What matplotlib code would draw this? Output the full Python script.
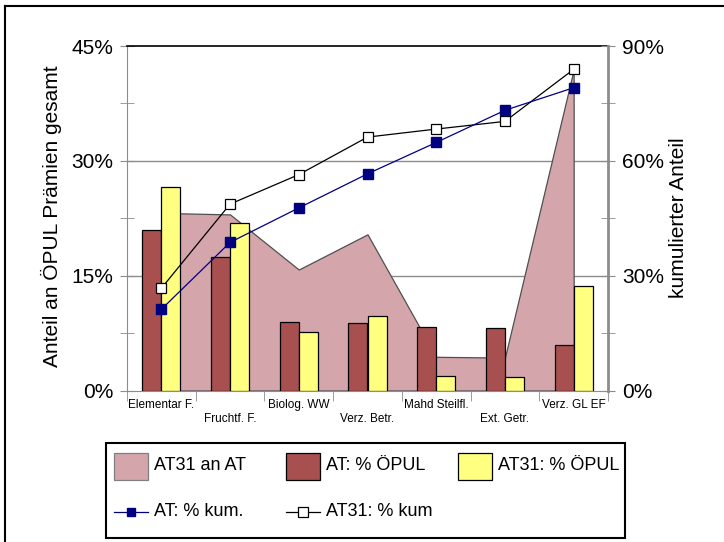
import matplotlib
matplotlib.use("Agg")
import matplotlib.pyplot as plt
from matplotlib.patches import Rectangle
import numpy as np

plt.rcParams["font.family"] = ["Liberation Sans", "DejaVu Sans"]

# Maßnahmen (Kategorien) und Anteile in %
categories = ["Elementar F.", "Fruchtf. F.", "Biolog. WW", "Verz. Betr.",
              "Mahd Steilfl.", "Ext. Getr.", "Verz. GL EF"]
at31_an_at = [23.2, 23.0, 15.8, 20.4, 4.4, 4.3, 41.9]     # Fläche, linke Achse
at_oepul = [21.0, 17.45, 8.9, 8.85, 8.25, 8.1, 6.0]       # Balken AT
at31_oepul = [26.6, 21.9, 7.6, 9.75, 1.95, 1.7, 13.7]     # Balken AT31
at_kum = [21.2, 38.7, 47.7, 56.6, 64.8, 73.2, 79.1]       # rechte Achse
at31_kum = [26.7, 48.7, 56.4, 66.2, 68.3, 70.3, 83.9]     # rechte Achse

left_ticks = [0, 15, 30, 45]
right_ticks = [0, 30, 60, 90]

C_AREA = "#D4A5AB"
C_AT = "#A85050"
C_AT31 = "#FFFF80"
C_BLUE = "#000080"
GREY = "#8C8C8C"
FS = 15

W, H = 724, 542
fig = plt.figure(figsize=(W / 100, H / 100), dpi=100)
ax = fig.add_axes([127 / W, 1 - 390.5 / H, 481 / W, 344.5 / H])
x = np.arange(len(categories))

ax.set_xlim(-0.5, len(categories) - 0.5)
ax.set_ylim(0, 45)

# Gitterlinien
for v in left_ticks[1:-1]:
    ax.axhline(v, color=GREY, lw=1, zorder=1)

ax.fill_between(x, at31_an_at, 0, facecolor=C_AREA, edgecolor="#505050",
                lw=0.9, zorder=2)
bw = 0.277
ax.bar(x - bw / 2, at_oepul, bw, color=C_AT, edgecolor="black", lw=0.9, zorder=3)
ax.bar(x + bw / 2, at31_oepul, bw, color=C_AT31, edgecolor="black", lw=0.9, zorder=3)

ax.set_yticks(left_ticks)
ax.set_yticklabels([f"{v}%" for v in left_ticks])
ax.set_yticks([7.5, 22.5, 37.5], minor=True)
ax.tick_params(axis="y", which="both", direction="inout", length=10,
               color=GREY, labelsize=FS, pad=5)

labels = [c if i % 2 == 0 else "\n" + c for i, c in enumerate(categories)]
ax.set_xticks(x)
ax.set_xticklabels(labels, fontsize=8.5, linespacing=1.25)
ax.set_xticks(np.arange(-0.5, len(categories), 1), minor=True)
ax.tick_params(axis="x", which="major", length=0, pad=6)
ax.tick_params(axis="x", which="minor", length=7, color=GREY, direction="out")

for s in ("left", "bottom"):
    ax.spines[s].set_color(GREY)
ax.spines["top"].set_color("black")
ax.spines["top"].set_linewidth(1.2)
ax.spines["right"].set_visible(False)

ax2 = ax.twinx()
ax2.set_ylim(0, 90)
ax2.plot(x, at_kum, color=C_BLUE, lw=0.9, marker="s", ms=6.5,
         mfc=C_BLUE, mec=C_BLUE, zorder=5)
ax2.plot(x, at31_kum, color="black", lw=0.9, marker="s", ms=7.5,
         mfc="white", mec="black", mew=0.9, zorder=4)
ax2.set_yticks(right_ticks)
ax2.set_yticklabels([f"{v}%" for v in right_ticks])
ax2.set_yticks([15, 45, 75], minor=True)
ax2.tick_params(axis="y", which="both", direction="inout", length=10,
                color=GREY, labelsize=FS, pad=5)
for s in ("left", "top", "bottom"):
    ax2.spines[s].set_visible(False)
ax2.spines["right"].set_color(GREY)
ax2.spines["right"].set_linewidth(2)

fig.text(51 / W, 1 - 216 / H, "Anteil an ÖPUL Prämien gesamt", rotation=90,
         ha="center", va="center", fontsize=FS)
fig.text(678 / W, 1 - 218 / H, "kumulierter Anteil", rotation=90,
         ha="center", va="center", fontsize=FS)

# Rahmen und Legende in Pixelkoordinaten
lax = fig.add_axes([0, 0, 1, 1])
lax.set_xlim(0, W)
lax.set_ylim(H, 0)
lax.axis("off")
lax.plot([5, W], [6, 6], color="black", lw=1.5)
lax.plot([5, 5], [6, H], color="black", lw=1.5)

lax.add_patch(Rectangle((106, 443), 519, 95, facecolor="white",
                        edgecolor="black", lw=1.5))
col = [114, 286, 458]
r1, r2 = 466, 512
for cx, fc, ec, txt in zip(col, [C_AREA, C_AT, C_AT31], ["#808080", "black", "black"],
                           ["AT31 an AT", "AT: % ÖPUL", "AT31: % ÖPUL"]):
    lax.add_patch(Rectangle((cx, r1 - 13.5), 34, 27, facecolor=fc, edgecolor=ec, lw=0.9))
    lax.text(cx + 40, r1, txt, fontsize=13, va="center", ha="left")
lax.plot([col[0], col[0] + 34], [r2, r2], color=C_BLUE, lw=0.9)
lax.plot([col[0] + 17], [r2], marker="s", ms=6, color=C_BLUE)
lax.text(col[0] + 40, r2, "AT: % kum.", fontsize=13, va="center", ha="left")
lax.plot([col[1], col[1] + 34], [r2, r2], color="black", lw=0.9)
lax.plot([col[1] + 17], [r2], marker="s", ms=7, mfc="white", mec="black", mew=0.9)
lax.text(col[1] + 40, r2, "AT31: % kum", fontsize=13, va="center", ha="left")

fig.savefig("out.png", dpi=100)
